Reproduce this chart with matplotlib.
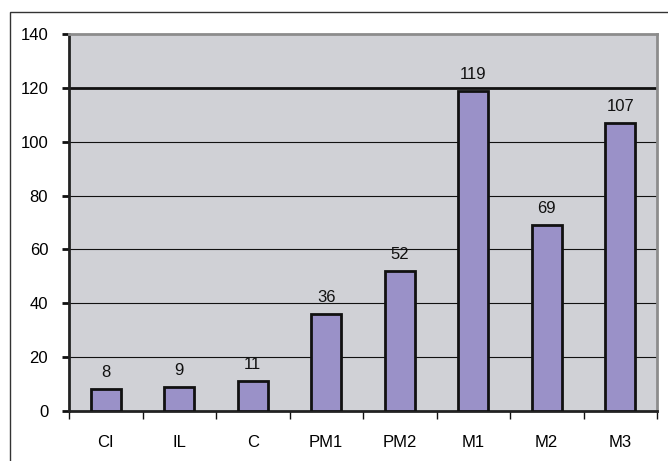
import matplotlib
matplotlib.use("Agg")
import matplotlib.pyplot as plt
from matplotlib.patches import Rectangle

categories = ["CI", "IL", "C", "PM1", "PM2", "M1", "M2", "M3"]
values = [8, 9, 11, 36, 52, 119, 69, 107]
yticks = [0, 20, 40, 60, 80, 100, 120, 140]
threshold = 120

plt.rcParams["font.family"] = ["Liberation Sans", "DejaVu Sans"]

fig = plt.figure(figsize=(6.68, 4.61), dpi=100)
fig.patches.append(Rectangle((10 / 668, -0.1), 1.2, 1 - 12 / 461 + 0.1,
                             transform=fig.transFigure, fill=False,
                             edgecolor="#333333", linewidth=1.0))

ax = fig.add_axes([69 / 668, 1 - 411 / 461, 588 / 668, 377 / 461])
ax.set_facecolor("#D0D1D6")

x = list(range(len(categories)))
bars = ax.bar(x, values, width=0.41, color="#9A91C8", edgecolor="#111111",
              linewidth=2.0, zorder=3)

for xi, v in zip(x, values):
    ax.annotate(str(v), (xi, v), xytext=(0, 6.5), textcoords="offset points",
                ha="center", va="bottom", fontsize=12, color="#111111", zorder=4)

ax.set_xlim(-0.5, len(categories) - 0.5)
ax.set_ylim(0, 140)
ax.set_yticks(yticks)
ax.set_yticklabels([str(t) for t in yticks], fontsize=12)
for t in yticks[1:-1]:
    if t == threshold:
        continue
    ax.axhline(t, color="#111111", linewidth=0.8, zorder=1)
ax.axhline(threshold, color="#111111", linewidth=2.0, zorder=2)

ax.set_xticks(x)
ax.set_xticklabels(categories, fontsize=12)
ax.tick_params(axis="x", length=0, pad=17)
ax.set_xticks([i + 0.5 for i in range(-1, len(categories))], minor=True)
ax.tick_params(axis="x", which="minor", length=6, width=1, color="#111111", direction="out")
ax.tick_params(axis="y", length=5, width=2, color="#111111", direction="out", pad=10)

ax.spines["left"].set_color("#222222")
ax.spines["left"].set_linewidth(2.0)
ax.spines["bottom"].set_color("#222222")
ax.spines["bottom"].set_linewidth(2.0)
for s in ("top", "right"):
    ax.spines[s].set_color("#8C8C8C")
    ax.spines[s].set_linewidth(2.0)

fig.savefig("out.png", dpi=100)
